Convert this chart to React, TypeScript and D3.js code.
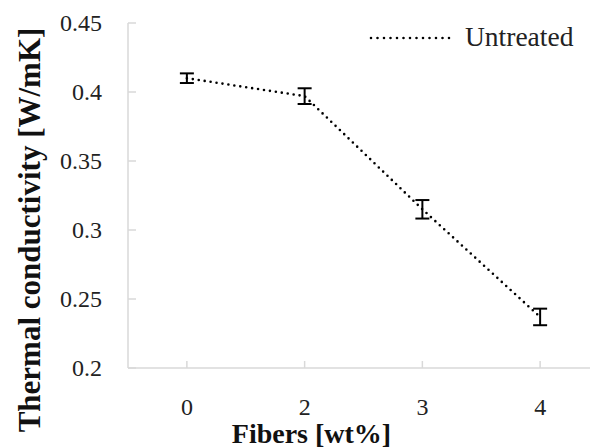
import { useEffect, useRef } from 'react';
import * as d3 from 'd3';

const fibers = ['0', '2', '3', '4'];
const conductivity = [0.41, 0.397, 0.315, 0.237];
const errors = [0.0035, 0.0057, 0.0067, 0.006];
const yTicks = [0.2, 0.25, 0.3, 0.35, 0.4, 0.45];
const seriesName = 'Untreated';

export default function App() {
  const svgRef = useRef<SVGSVGElement>(null);
  const width = 590;
  const height = 448;

  useEffect(() => {
    const svg = d3.select(svgRef.current);
    svg.selectAll('*').remove();

    const left = 128;
    const top = 23;
    const bottom = 368;
    const axisColor = '#d9d9d9';
    const font = '"Liberation Serif", "Times New Roman", serif';

    const x = d3.scaleBand().domain(fibers).range([left, 599]).padding(0);
    const y = d3.scaleLinear().domain([0.2, 0.45]).range([bottom, top]);
    const cx = (d: string) => (x(d) as number) + x.bandwidth() / 2;

    // axes
    svg.append('line')
      .attr('x1', left).attr('x2', width)
      .attr('y1', bottom).attr('y2', bottom)
      .attr('stroke', axisColor).attr('stroke-width', 1.5);
    svg.append('line')
      .attr('x1', left).attr('x2', left)
      .attr('y1', top).attr('y2', bottom)
      .attr('stroke', axisColor).attr('stroke-width', 1.5);

    yTicks.forEach(t => {
      svg.append('line')
        .attr('x1', left).attr('x2', left + 8)
        .attr('y1', y(t)).attr('y2', y(t))
        .attr('stroke', axisColor).attr('stroke-width', 1.5);
      svg.append('text')
        .attr('x', 102)
        .attr('y', y(t) + 8)
        .attr('text-anchor', 'end')
        .attr('fill', '#222')
        .style('font-family', font)
        .style('font-size', '24px')
        .text(String(t));
    });

    fibers.forEach(f => {
      svg.append('line')
        .attr('x1', cx(f)).attr('x2', cx(f))
        .attr('y1', bottom).attr('y2', bottom - 7)
        .attr('stroke', axisColor).attr('stroke-width', 1.5);
      svg.append('text')
        .attr('x', cx(f))
        .attr('y', 415)
        .attr('text-anchor', 'middle')
        .attr('fill', '#222')
        .style('font-family', font)
        .style('font-size', '24px')
        .text(f);
    });

    // line
    const line = d3.line<number>()
      .x((d, i) => cx(fibers[i]))
      .y(d => y(d));

    svg.append('path')
      .attr('d', line(conductivity))
      .attr('fill', 'none')
      .attr('stroke', '#000')
      .attr('stroke-width', 2.6)
      .attr('stroke-linecap', 'round')
      .attr('stroke-dasharray', '0 6');

    // error bars
    conductivity.forEach((v, i) => {
      const px = cx(fibers[i]);
      const g = svg.append('g').attr('stroke', '#000').attr('stroke-width', 2);
      g.append('line')
        .attr('x1', px).attr('x2', px)
        .attr('y1', y(v - errors[i])).attr('y2', y(v + errors[i]));
      [v - errors[i], v + errors[i]].forEach(e => {
        g.append('line')
          .attr('x1', px - 7).attr('x2', px + 7)
          .attr('y1', y(e)).attr('y2', y(e));
      });
    });

    // legend
    svg.append('line')
      .attr('x1', 371).attr('x2', 450)
      .attr('y1', 38).attr('y2', 38)
      .attr('stroke', '#000')
      .attr('stroke-width', 2.6)
      .attr('stroke-linecap', 'round')
      .attr('stroke-dasharray', '0 6.5');
    svg.append('text')
      .attr('x', 465)
      .attr('y', 46)
      .attr('fill', '#222')
      .style('font-family', font)
      .style('font-size', '27.5px')
      .text(seriesName);

    // titles
    svg.append('text')
      .attr('x', 311.5)
      .attr('y', 443)
      .attr('text-anchor', 'middle')
      .attr('fill', '#111')
      .style('font-family', font)
      .style('font-weight', '700')
      .style('font-size', '28px')
      .text('Fibers [wt%]');

    svg.append('text')
      .attr('transform', `translate(40,230) rotate(-90)`)
      .attr('text-anchor', 'middle')
      .attr('fill', '#111')
      .style('font-family', font)
      .style('font-weight', '700')
      .style('font-size', '31px')
      .text('Thermal conductivity [W/mK]');
  }, []);

  return (
    <svg
      ref={svgRef}
      width={width}
      height={height}
      style={{ position: 'absolute', left: 0, top: 0, background: '#fff' }}
    />
  );
}
